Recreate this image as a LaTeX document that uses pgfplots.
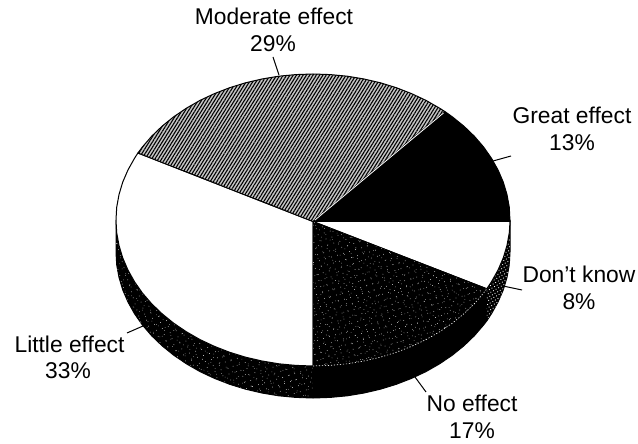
\documentclass[border=0pt]{standalone}
\usepackage{fontspec}
\setmainfont{Liberation Sans}
\usepackage{pgfplots}
\usepackage{pgfplotstable}
\pgfplotsset{compat=1.18}
\usetikzlibrary{patterns.meta}

\tikzset{lab/.style={anchor=base, inner sep=0pt, font=\fontsize{22.8}{24}\selectfont}}

% outlines in reference pixels, measured from the pie centre (313,220)
\pgfplotstableread{
x y
0 -1.5
197 -1.5
196.3 12.7
194 25.4
190.3 37.8
185.1 49.9
178.5 61.7
170.6 73
161.4 83.7
150.9 93.8
139.3 103.2
131.8 108.5
0 -1.5
}\GreatTop
\pgfplotstableread{
x y
0 -1.5
131.8 108.5
126.6 111.8
113 119.6
98.5 126.4
83.3 132.3
67.4 137.2
51 141
34.2 143.8
17.2 145.4
0 146
-17.2 145.4
-34.2 143.8
-51 141
-67.4 137.2
-83.3 132.3
-98.5 126.4
-113 119.6
-126.6 111.8
-139.3 103.2
-150.9 93.8
-161.4 83.7
-170.6 73
-175.1 67
0 -1.5
}\ModerateTop
\pgfplotstableread{
x y
0 -1.5
-175.1 67
-178.5 61.7
-185.1 49.9
-190.3 37.8
-194 25.4
-196.3 12.7
-197 0
-196.3 -12.7
-194 -25.4
-190.3 -37.8
-185.1 -49.9
-178.5 -61.7
-170.6 -73
-161.4 -83.7
-150.9 -93.8
-139.3 -103.2
-126.6 -111.8
-113 -119.6
-98.5 -126.4
-83.3 -132.3
-67.4 -137.2
-51 -141
-34.2 -143.8
-17.2 -145.4
0 -146
0 -1.5
}\LittleTop
\pgfplotstableread{
x y
0 -1.5
0 -146
17.2 -145.4
34.2 -143.8
51 -141
67.4 -137.2
83.3 -132.3
98.5 -126.4
113 -119.6
126.6 -111.8
139.3 -103.2
150.9 -93.8
161.4 -83.7
170.6 -73
173.8 -68.8
0 -1.5
}\NoTop
\pgfplotstableread{
x y
0 -146
17.2 -145.4
34.2 -143.8
51 -141
67.4 -137.2
83.3 -132.3
98.5 -126.4
113 -119.6
126.6 -111.8
139.3 -103.2
150.9 -93.8
161.4 -83.7
170.6 -73
173.8 -68.8
}\NoRim
\pgfplotstableread{
x y
0 -1.5
173.8 -68.8
178.5 -61.7
185.1 -49.9
190.3 -37.8
194 -25.4
196.3 -12.7
197 -1.5
0 -1.5
}\KnowTop

% side walls, the tops are drawn over their upper part
\pgfplotstableread{
x y
-197 0
-197 -32
-196.3 -44.7
-194 -57.4
-190.3 -69.8
-185.1 -81.9
-178.5 -93.7
-170.6 -105
-161.4 -115.7
-150.9 -125.8
-139.3 -135.2
-126.6 -143.8
-113 -151.6
-98.5 -158.4
-83.3 -164.3
-67.4 -169.2
-51 -173
-34.2 -175.8
-17.2 -177.4
0 -178
0 0
-197 0
}\LittleSide
\pgfplotstableread{
x y
0 0
0 -178
17.2 -177.4
34.2 -175.8
51 -173
67.4 -169.2
83.3 -164.3
98.5 -158.4
113 -151.6
126.6 -143.8
139.3 -135.2
150.9 -125.8
161.4 -115.7
170.6 -105
173.8 -100.8
173.8 -68.8
0 0
}\NoSide
\pgfplotstableread{
x y
173.8 -68.8
173.8 -100.8
178.5 -93.7
185.1 -81.9
190.3 -69.8
194 -57.4
196.3 -44.7
197 -32
197 0
173.8 -68.8
}\KnowSide

\pgfplotsset{
  edge/.style={draw=black, line width=1pt, line join=round},
  specka/.style={draw=none, pattern={Dots[angle=17,distance=6.3pt,radius=0.4pt]}, pattern color=white},
  speckb/.style={draw=none, pattern={Dots[angle=53,distance=7.9pt,radius=0.33pt]}, pattern color=white},
  speckc/.style={draw=none, pattern={Dots[angle=71,distance=9.1pt,radius=0.33pt]}, pattern color=white},
}

\begin{document}
\begin{tikzpicture}
\path[use as bounding box] (0,0) rectangle (638pt,444pt);
\begin{axis}[
  at={(0,0)},
  anchor=south west,
  scale only axis,
  width=638pt,
  height=444pt,
  xmin=-313, xmax=325,
  ymin=-224, ymax=220,
  hide axis,
  clip=false,
]
  % side walls
  \addplot[edge, fill=black] table {\LittleSide};
  \addplot[specka] table {\LittleSide};
  \addplot[speckb] table {\LittleSide};
  \addplot[speckc] table {\LittleSide};
  \addplot[edge, fill=black] table {\NoSide};
  \addplot[edge, fill=black] table {\KnowSide};
  \addplot[draw=none, pattern={Dots[angle=30,distance=3pt,radius=0.6pt]}, pattern color=white] table {\KnowSide};

  % top face
  \addplot[edge, fill=white] table {\LittleTop};
  \addplot[edge, fill=white] table {\KnowTop};
  \addplot[edge, fill=black] table {\NoTop};
  \addplot[specka] table {\NoTop};
  \addplot[speckb] table {\NoTop};
  \addplot[speckc] table {\NoTop};
  \addplot[white, line width=0.6pt, dash pattern=on 1.2pt off 1.8pt] table {\NoRim};
  \addplot[edge, fill=black] table {\GreatTop};
  \addplot[draw=none, fill=gray!45] table {\ModerateTop};
  \addplot[draw=none, pattern={Lines[angle=58,distance=2.8pt,line width=1.1pt]}, pattern color=black] table {\ModerateTop};
  \addplot[edge] table {\ModerateTop};
  \addplot[white, line width=0.8pt] coordinates {(2,0) (130.5,107)};

  % leader lines
  \addplot[black, line width=1pt] coordinates {(-40,163) (-34,145)};
  \addplot[black, line width=1pt] coordinates {(180,59) (198,64)};
  \addplot[black, line width=1pt] coordinates {(190,-66) (209,-70)};
  \addplot[black, line width=1pt] coordinates {(102,-157) (113,-172)};
  \addplot[black, line width=1pt] coordinates {(-186,-113) (-170,-106)};

  % labels
  \node[lab] at (axis cs:-39,195) {Moderate effect};
  \node[lab] at (axis cs:-40,168) {29\%};
  \node[lab] at (axis cs:259,96) {Great effect};
  \node[lab] at (axis cs:259,69) {13\%};
  \node[lab] at (axis cs:266,-63) {Don't know};
  \node[lab] at (axis cs:266,-90) {8\%};
  \node[lab] at (axis cs:159,-192) {No effect};
  \node[lab] at (axis cs:159,-219) {17\%};
  \node[lab] at (axis cs:-243.5,-133) {Little effect};
  \node[lab] at (axis cs:-245,-159) {33\%};
\end{axis}
\end{tikzpicture}
\end{document}
